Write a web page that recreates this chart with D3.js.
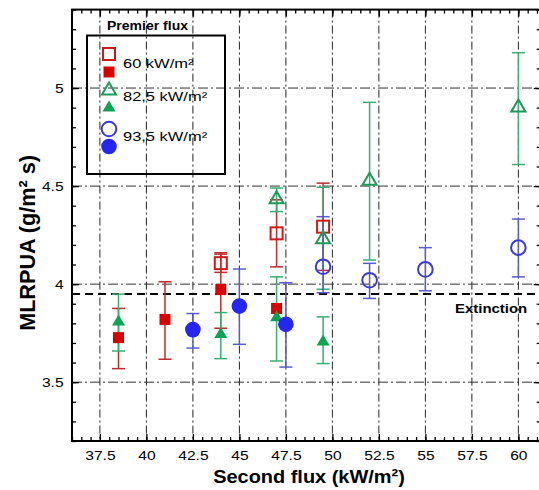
<!DOCTYPE html>
<html><head><meta charset="utf-8">
<script src="https://cdn.jsdelivr.net/npm/d3@7"></script>
<style>
body{margin:0;background:#fff}
text{font-family:"Liberation Sans",Arial,Helvetica,sans-serif;fill:#000}
</style>
</head><body>
<svg id="chart" width="539" height="490"></svg>
<script>
// ---------- data ----------
const xTickValues = [37.5, 40, 42.5, 45, 47.5, 50, 52.5, 55, 57.5, 60];
const xTickLabels = ["37.5", "40", "42.5", "45", "47.5", "50", "52.5", "55", "57.5", "60"];
const yTickValues = [3.5, 4, 4.5, 5];
const yTickLabels = ["3.5", "4", "4.5", "5"];
const extinctionValue = 3.95;
const extinctionLabel = "Extinction";
const legendTitle = "Premier flux";
const legendLabels = ["60 kW/m²", "82,5 kW/m²", "93,5 kW/m²"];
const xTitle = "Second flux (kW/m²)";
const yTitle = "MLRPUA (g/m² s)";

// 60 kW/m² – open squares
const red60OpenX  = [44, 47, 49.5];
const red60OpenY  = [4.107, 4.259, 4.293];
const red60OpenLo = [4.06, 4.088, 4.07];
const red60OpenHi = [4.153, 4.43, 4.515];
// 60 kW/m² – filled squares
const red60FillX  = [38.5, 41, 44, 47];
const red60FillY  = [3.727, 3.82, 3.972, 3.876];
const red60FillLo = [3.569, 3.617, 3.775, 3.876];
const red60FillHi = [3.876, 4.012, 4.16, 3.876];
// 82,5 kW/m² – open triangles
const green82OpenX  = [47, 49.5, 52, 60];
const green82OpenY  = [4.438, 4.234, 4.532, 4.906];
const green82OpenLo = [4.37, 3.974, 4.123, 4.61];
const green82OpenHi = [4.49, 4.494, 4.927, 5.18];
// 82,5 kW/m² – filled triangles
const green82FillX  = [38.5, 44, 47, 49.5];
const green82FillY  = [3.812, 3.748, 3.833, 3.71];
const green82FillLo = [3.659, 3.62, 3.608, 3.595];
const green82FillHi = [3.949, 3.855, 4.037, 3.833];
// 93,5 kW/m² – open circles
const blue93OpenX  = [49.5, 52, 55, 60];
const blue93OpenY  = [4.089, 4.02, 4.075, 4.186];
const blue93OpenLo = [3.956, 3.927, 3.966, 4.037];
const blue93OpenHi = [4.344, 4.106, 4.186, 4.332];
// 93,5 kW/m² – filled circles
const blue93FillX  = [42.5, 45, 47.5];
const blue93FillY  = [3.768, 3.888, 3.795];
const blue93FillLo = [3.674, 3.693, 3.577];
const blue93FillHi = [3.85, 4.077, 4.007];

// ---------- setup ----------
const svg = d3.select("#chart");
const L = 72, R = 540.7, T = 9.6, B = 441;
const x = d3.scaleLinear().domain([36, 61.2]).range([L, R]);
const y = d3.scaleLinear().domain([3.2, 5.4]).range([B, T]);

const zip = (xs, ys, lo, hi) => xs.map((d, i) => ({x: d, y: ys[i], lo: lo[i], hi: hi[i]}));
const series = [
  {pts: zip(red60OpenX, red60OpenY, red60OpenLo, red60OpenHi), shape: "square", filled: false, col: "#cc1a1a", err: "#c42a2a"},
  {pts: zip(red60FillX, red60FillY, red60FillLo, red60FillHi), shape: "square", filled: true, col: "#d80000", err: "#c42a2a"},
  {pts: zip(green82OpenX, green82OpenY, green82OpenLo, green82OpenHi), shape: "triangle", filled: false, col: "#1c9a58", err: "#3aae72"},
  {pts: zip(green82FillX, green82FillY, green82FillLo, green82FillHi), shape: "triangle", filled: true, col: "#0ca452", err: "#3aae72"},
  {pts: zip(blue93OpenX, blue93OpenY, blue93OpenLo, blue93OpenHi), shape: "circle", filled: false, col: "#3a3ad8", err: "#5a5ad0"},
  {pts: zip(blue93FillX, blue93FillY, blue93FillLo, blue93FillHi), shape: "circle", filled: true, col: "#2626f0", err: "#5a5ad0"}
];

// ---------- grid ----------
const grid = svg.append("g");
grid.selectAll("line.v").data(xTickValues).join("line")
  .attr("x1", d => x(d)).attr("x2", d => x(d)).attr("y1", T).attr("y2", B)
  .attr("stroke", "#222").attr("stroke-width", 1).attr("stroke-dasharray", "8,3,2,3");
grid.selectAll("line.h").data(yTickValues).join("line")
  .attr("x1", L).attr("x2", R).attr("y1", d => y(d)).attr("y2", d => y(d))
  .attr("stroke", "#333").attr("stroke-width", 1).attr("stroke-dasharray", "10,3,2,3");

// extinction line
svg.append("line").attr("x1", L).attr("x2", R)
  .attr("y1", y(extinctionValue)).attr("y2", y(extinctionValue))
  .attr("stroke", "#000").attr("stroke-width", 2).attr("stroke-dasharray", "8,5");
svg.append("text").attr("x", 455).attr("y", y(extinctionValue) + 19.5)
  .attr("font-size", 13).attr("font-weight", "bold")
  .attr("transform", `translate(${455},0) scale(1.15,1) translate(${-455},0)`)
  .text(extinctionLabel);

// ---------- axes (inward ticks) ----------
const minorX = d3.range(36, 61.21, 0.5);
const minorY = d3.range(3.2, 5.41, 0.1);
function styleAxis(g) {
  g.select(".domain").remove();
  g.selectAll(".tick line").attr("stroke", "#000").attr("stroke-width", 1.3);
}
svg.append("g").attr("transform", `translate(0,${B})`)
  .call(d3.axisBottom(x).tickValues(minorX).tickSize(-4).tickFormat("")).call(styleAxis);
svg.append("g").attr("transform", `translate(0,${T})`)
  .call(d3.axisTop(x).tickValues(minorX).tickSize(-4).tickFormat("")).call(styleAxis);
svg.append("g").attr("transform", `translate(${L},0)`)
  .call(d3.axisLeft(y).tickValues(minorY).tickSize(-4).tickFormat("")).call(styleAxis);
svg.append("g").attr("transform", `translate(${R},0)`)
  .call(d3.axisRight(y).tickValues(minorY).tickSize(-4).tickFormat("")).call(styleAxis);

const xAxis = svg.append("g").attr("transform", `translate(0,${B})`)
  .call(d3.axisBottom(x).tickValues(xTickValues).tickSize(-7).tickPadding(10)
    .tickFormat((d, i) => xTickLabels[i])).call(styleAxis);
xAxis.selectAll("text").attr("font-size", 13).attr("font-family", null)
  .attr("transform", "scale(1.2,1)");
svg.append("g").attr("transform", `translate(0,${T})`)
  .call(d3.axisTop(x).tickValues(xTickValues).tickSize(-7).tickFormat("")).call(styleAxis);
const yAxis = svg.append("g").attr("transform", `translate(${L},0)`)
  .call(d3.axisLeft(y).tickValues(yTickValues).tickSize(-7).tickPadding(7)
    .tickFormat((d, i) => yTickLabels[i])).call(styleAxis);
yAxis.selectAll("text").attr("font-size", 13).attr("font-family", null)
  .attr("transform", "scale(1.2,1)");
svg.append("g").attr("transform", `translate(${R},0)`)
  .call(d3.axisRight(y).tickValues(yTickValues).tickSize(-7).tickFormat("")).call(styleAxis);

// frame
svg.append("rect").attr("x", L).attr("y", T).attr("width", R - L).attr("height", B - T)
  .attr("fill", "none").attr("stroke", "#000").attr("stroke-width", 2);

// axis titles
svg.append("text").attr("x", 309).attr("y", 483).attr("text-anchor", "middle")
  .attr("font-size", 19).attr("font-weight", "bold")
  .attr("transform", "translate(309,0) scale(1.05,1) translate(-309,0)")
  .text(xTitle);
svg.append("text").attr("text-anchor", "middle")
  .attr("font-size", 21).attr("font-weight", "bold")
  .attr("transform", "translate(35,243) rotate(-90) scale(1.03,1.05)")
  .text(yTitle);

// ---------- markers ----------
function drawMarker(g, shape, filled, col, cx, cy) {
  if (shape === "square") {
    const h = filled ? 5.5 : 6;
    g.append("rect").attr("x", cx - h).attr("y", cy - h).attr("width", 2 * h).attr("height", 2 * h)
      .attr("fill", filled ? col : "none").attr("stroke", filled ? "none" : col).attr("stroke-width", 2);
  } else if (shape === "triangle") {
    const w = filled ? 6.5 : 7, top = filled ? 6.5 : 7, bot = filled ? 4.5 : 5;
    g.append("path").attr("d", `M${cx},${cy - top}L${cx + w},${cy + bot}L${cx - w},${cy + bot}Z`)
      .attr("fill", filled ? col : "none").attr("stroke", filled ? "none" : col).attr("stroke-width", 2)
      .attr("stroke-linejoin", "miter");
  } else {
    g.append("circle").attr("cx", cx).attr("cy", cy).attr("r", filled ? 7.8 : 7.3)
      .attr("fill", filled ? col : "none").attr("stroke", filled ? "none" : col).attr("stroke-width", 2);
  }
}

// error bars first
const eg = svg.append("g");
series.forEach(s => {
  s.pts.forEach(p => {
    if (p.lo === p.hi) return;
    const cx = x(p.x);
    eg.append("line").attr("x1", cx).attr("x2", cx).attr("y1", y(p.lo)).attr("y2", y(p.hi))
      .attr("stroke", s.err).attr("stroke-width", 1.5);
    [p.lo, p.hi].forEach(v => {
      eg.append("line").attr("x1", cx - 6.5).attr("x2", cx + 6.5).attr("y1", y(v)).attr("y2", y(v))
        .attr("stroke", s.err).attr("stroke-width", 1.5);
    });
  });
});
const mg = svg.append("g");
series.forEach(s => {
  s.pts.forEach(p => drawMarker(mg, s.shape, s.filled, s.col, x(p.x), y(p.y)));
});

// ---------- legend ----------
const lg = svg.append("g");
lg.append("text").attr("x", 107).attr("y", 30.5).attr("font-size", 12).attr("font-weight", "bold")
  .attr("transform", "translate(107,0) scale(1.17,1) translate(-107,0)")
  .text(legendTitle);
lg.append("rect").attr("x", 87).attr("y", 35.5).attr("width", 138).attr("height", 138.5)
  .attr("fill", "none").attr("stroke", "#000").attr("stroke-width", 2);
const legRows = [
  {open: 54, fill: 72, text: 68, si: 0},
  {open: 89.5, fill: 107, text: 101.5, si: 2},
  {open: 129, fill: 146.5, text: 141.5, si: 4}
];
legRows.forEach((r, i) => {
  const sOpen = series[r.si], sFill = series[r.si + 1];
  drawMarker(lg, sOpen.shape, false, sOpen.col, 109, r.open);
  drawMarker(lg, sFill.shape, true, sFill.col, 109, r.fill);
  lg.append("text").attr("x", 123).attr("y", r.text).attr("font-size", 13.5)
    .attr("transform", "translate(123,0) scale(1.22,1) translate(-123,0)")
    .text(legendLabels[i]);
});
</script>
</body></html>
